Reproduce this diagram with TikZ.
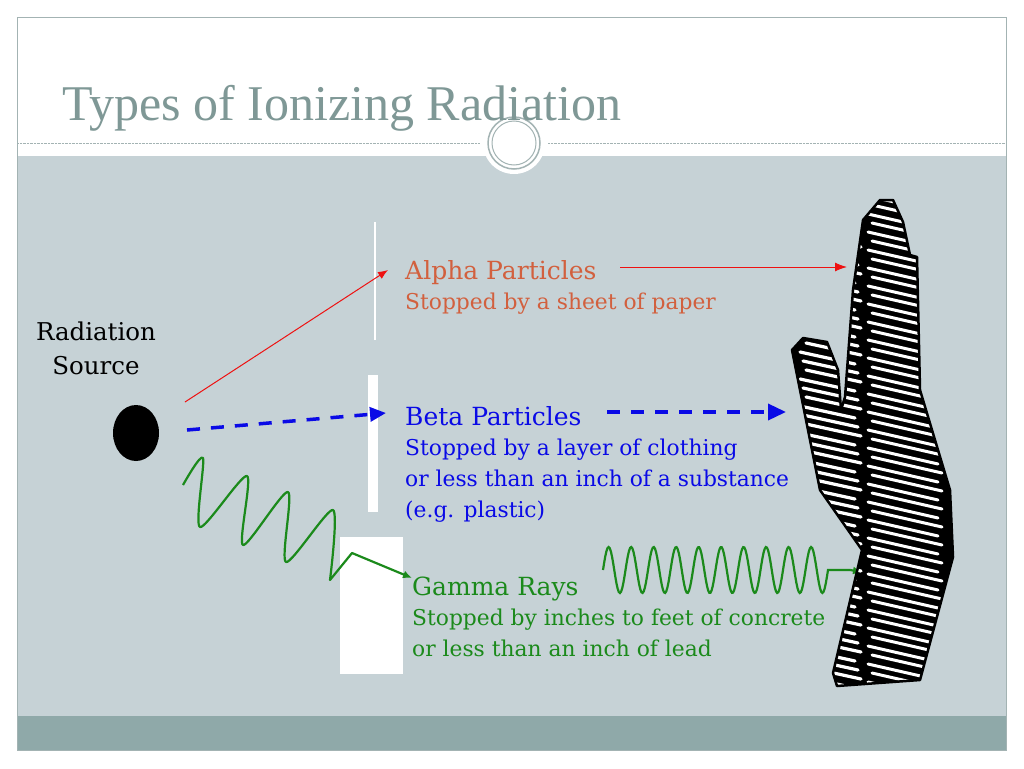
\documentclass[tikz,border=0pt]{standalone}
\usepackage{fontspec}
\setmainfont{DejaVu Serif}
\newfontfamily\titlefont{Liberation Serif}
\usetikzlibrary{arrows.meta,positioning,shapes.geometric}
\definecolor{slidebg}{HTML}{C6D2D6}
\definecolor{slidebar}{HTML}{8FA9A9}
\definecolor{slideline}{HTML}{A3B3B3}
\definecolor{titlegray}{HTML}{7F9896}
\definecolor{alphacol}{HTML}{D2603E}
\definecolor{alpharay}{HTML}{EE1111}
\definecolor{betacol}{HTML}{0A0AE6}
\definecolor{gammacol}{HTML}{1B8A1B}
\tikzset{
  head/.style={anchor=base west,inner sep=0pt,font=\fontsize{25}{30}\selectfont},
  sub/.style={anchor=north west,inner sep=0pt,align=left,font=\fontsize{21.8}{31}\selectfont},
  shield/.style={fill=white,draw=none}
}
\begin{document}
\begin{tikzpicture}[x=1pt,y=-1pt]
\useasboundingbox (0,0) rectangle (1024,768);
% slide frame
\fill[white] (0,0) rectangle (1024,768);
\fill[slidebg] (17,156) rectangle (1006,716);
\fill[slidebar] (17,716) rectangle (1006,750);
\draw[slideline] (17,17) rectangle (1006,750);
\draw[slideline,densely dotted] (17,143) -- (480,143);
\draw[slideline,densely dotted] (548,143) -- (1006,143);
\fill[white] (514,143) circle (31);
\draw[slideline,line width=1.5pt] (514,143) circle (26);
\draw[slideline,line width=1pt] (514,143) circle (22);
\node[anchor=base west,inner sep=0pt,text=titlegray,font=\titlefont\fontsize{50}{54}\selectfont] (title) at (62,120) {Types of Ionizing Radiation};
% source
\node[align=center,font=\fontsize{24.5}{34}\selectfont] (srclabel) at (96,348) {Radiation\\Source};
\node[fill=black,ellipse,minimum width=46,minimum height=56,inner sep=0pt] (src) at (136,433) {};
% shields
\draw[white,line width=1.5pt] (375,222) -- (375,340);
\fill[shield] (368,375) rectangle (378,512);
\fill[shield] (340,537) rectangle (403,674);
% labels
\node[head,text=alphacol] (alpha) at (405,279) {Alpha Particles};
\node[sub,text=alphacol,below=14pt of alpha.base west,anchor=north west] (alphasub) {Stopped by a sheet of paper};
\node[head,text=betacol] (beta) at (405,425) {Beta Particles};
\node[sub,text=betacol,below=14pt of beta.base west,anchor=north west] (betasub) {Stopped by a layer of clothing\\or less than an inch of a substance\\(e.g. plastic)};
\node[head,text=gammacol] (gamma) at (412,595) {Gamma Rays};
\node[sub,text=gammacol,below=14pt of gamma.base west,anchor=north west] (gammasub) {Stopped by inches to feet of concrete\\or less than an inch of lead};
% rays
\coordinate (a0) at (185,402);
\coordinate (a1) at (388,270);
\draw[alpharay,line width=1pt,-{Latex[length=10pt,width=8pt]}] (a0) -- (a1);
\draw[alpharay,line width=1pt,-{Latex[length=12pt,width=9pt]}] (620,267) -- (847,267);
\coordinate (b0) at (187,430);
\coordinate (b1) at (386,413);
\draw[betacol,line width=3.5pt,dash pattern=on 13pt off 11pt,-{Triangle[length=16pt,width=14pt]}] (b0) -- (b1);
\draw[betacol,line width=3.5pt,dash pattern=on 13pt off 11pt,-{Triangle[length=18pt,width=16pt]}] (607,412) -- (786,412);
\coordinate (g0) at (183,485);
\coordinate (g1) at (412,578);
\draw[gammacol,line width=2.2pt,line join=round,-{Latex[length=9pt,width=8pt]}]
  plot[smooth,tension=0.45] coordinates {(g0) (203,458) (200,527) (247,476) (243,545) (288,492) (286,562) (333,510) (330,580)} -- (352,553) -- (g1);
\draw[gammacol,line width=2.2pt,-{Latex[length=9pt,width=8pt]}]
  plot[domain=0:225,samples=200] ({603+\x},{570-23*sin(\x/22.5*360)}) -- (850,570) -- (862,572);
% hand
\begin{scope}
\path[clip] (803,338) -- (792,350) -- (820,490) -- (862,550) -- (833,673) -- (837,686) -- (920,680)
  -- (953,557) -- (950,490) -- (920,390) -- (917,257) -- (910,255) -- (903,222) -- (893,200)
  -- (880,200) -- (863,220) -- (853,290) -- (845,397) -- (841,410) -- (838,370) -- (827,342) -- cycle;
\fill[black] (780,190) rectangle (970,700);
\foreach \k in {0,...,56} {
  \draw[white,line width=3.2pt,line cap=round] ({800+(mod(\k,3))*3},{190+9*\k}) -- ++(55,12);
  \draw[white,line width=3pt,line cap=round] ({868+(mod(\k,2))*4},{196+9*\k}) -- ++(70,16);
}
\end{scope}
\draw[black,line width=2.5pt,line join=round] (803,338) -- (792,350) -- (820,490) -- (862,550) -- (833,673) -- (837,686) -- (920,680)
  -- (953,557) -- (950,490) -- (920,390) -- (917,257) -- (910,255) -- (903,222) -- (893,200)
  -- (880,200) -- (863,220) -- (853,290) -- (845,397) -- (841,410) -- (838,370) -- (827,342) -- cycle;
\end{tikzpicture}
\end{document}
